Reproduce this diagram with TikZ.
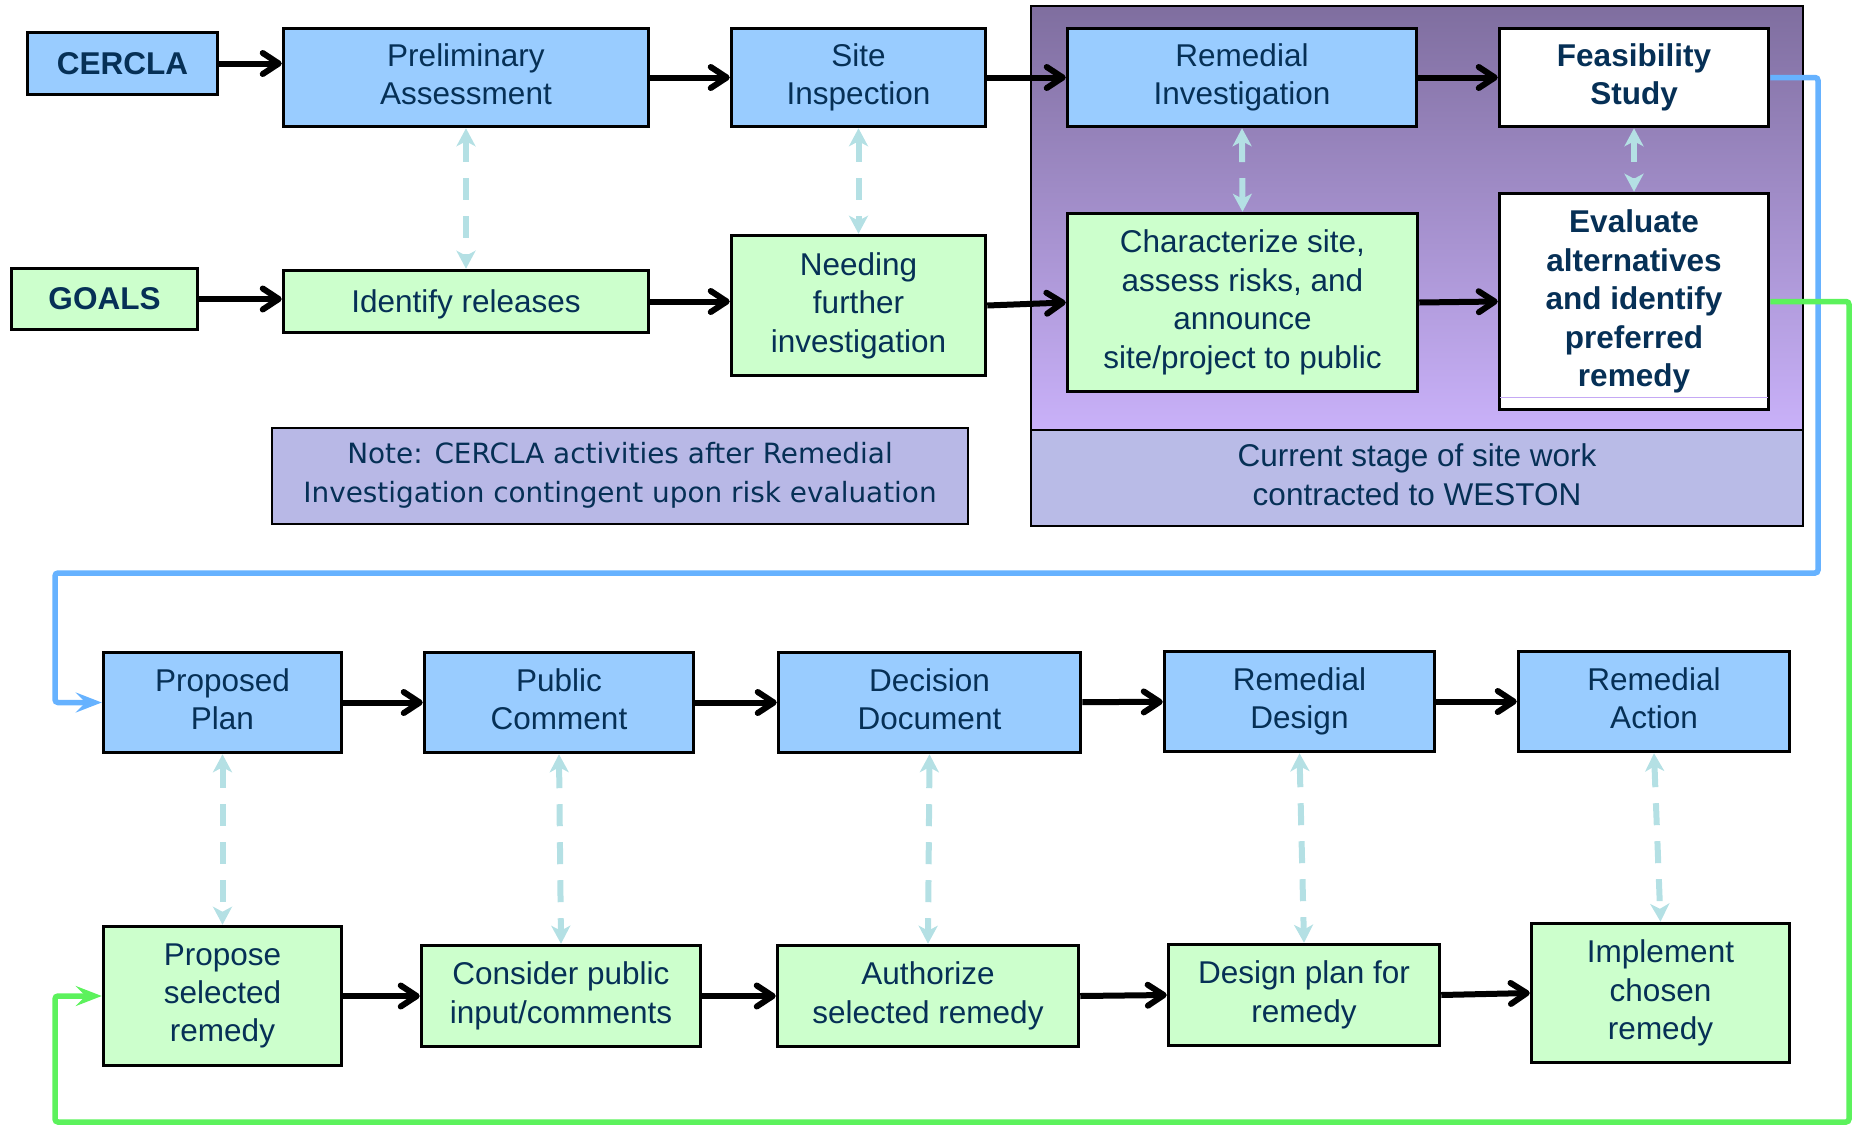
\documentclass[tikz,border=0pt]{standalone}
\usepackage{fontspec}
\setmainfont{Liberation Sans}
\newfontfamily\notefont{DejaVu Sans}
\usetikzlibrary{arrows.meta}
\definecolor{boxblue}{RGB}{153,204,255}
\definecolor{boxgreen}{RGB}{204,255,204}
\definecolor{txt}{RGB}{6,48,86}
\definecolor{dashc}{RGB}{180,224,228}
\definecolor{lineblue}{RGB}{102,178,255}
\definecolor{linegreen}{RGB}{92,242,92}
\definecolor{pantop}{RGB}{127,110,159}
\definecolor{panbot}{RGB}{201,177,249}
\definecolor{bandc}{RGB}{185,187,231}
\definecolor{notec}{RGB}{184,184,230}
\definecolor{thinlav}{RGB}{196,168,244}
\newcommand\pstrut{\rule[-6.7pt]{0pt}{35.2pt}}
\newcommand\nstrut{\rule[-6.4pt]{0pt}{31.8pt}}
\begin{document}
\begin{tikzpicture}[x=1pt,y=-1pt,
  box/.style={draw=black, line width=3.5pt, inner sep=0pt, align=center, text=txt,
    font=\fontsize{31.5}{38.5}\selectfont,
    execute at begin node=\pstrut, execute at end node=\pstrut},
  bbox/.style={box, fill=boxblue},
  gbox/.style={box, fill=boxgreen},
  wbox/.style={box, fill=white, font=\fontsize{31.5}{38.5}\selectfont\bfseries},
  flow/.style={line width=6pt, -{Straight Barb[length=16pt,width=21pt,round]}},
  dashline/.style={line width=6pt, draw=dashc, dash pattern=on 22pt off 16pt,
    {Stealth[length=18pt,width=19pt,inset=5pt]}-{Stealth[length=18pt,width=19pt,inset=5pt]}},
  bluelink/.style={line width=5.5pt, draw=lineblue, rounded corners=3pt,
    -{Stealth[length=26pt,width=20pt,inset=10pt]}},
  greenlink/.style={line width=5.5pt, draw=linegreen, rounded corners=3pt,
    -{Stealth[length=26pt,width=20pt,inset=10pt]}}
]
\useasboundingbox (0,0) rectangle (1856,1125);

% panel of current stage
\node[top color=pantop, bottom color=panbot, draw=black, line width=2.5pt,
  minimum width=772pt, minimum height=424pt, inner sep=0pt] (panel) at (1417,218) {};
\node[fill=bandc, draw=black, line width=2.5pt, minimum width=772pt, minimum height=96pt,
  inner sep=0pt, align=center, text=txt, font=\fontsize{31.5}{38.5}\selectfont,
  execute at begin node=\pstrut, execute at end node=\pstrut]
  (stage) at (1417,478) {Current stage of site work\\contracted to WESTON};

% top rows
\node[bbox, font=\fontsize{31.5}{38.5}\selectfont\bfseries, minimum width=190pt, minimum height=62pt] (cercla) at (122.5,63.5) {CERCLA};
\node[bbox, minimum width=365pt, minimum height=98pt] (prelim) at (466,77.5) {Preliminary\\Assessment};
\node[bbox, minimum width=254pt, minimum height=98pt] (site) at (858.5,77.5) {Site\\Inspection};
\node[bbox, minimum width=349pt, minimum height=98pt] (ri) at (1242,77.5) {Remedial\\Investigation};
\node[wbox, minimum width=269pt, minimum height=98pt] (fs) at (1634,77.5) {Feasibility\\Study};

\node[gbox, font=\fontsize{31.5}{38.5}\selectfont\bfseries, minimum width=186pt, minimum height=61pt] (goals) at (104.5,299) {GOALS};
\node[gbox, minimum width=365pt, minimum height=62pt] (ident) at (466,301.5) {Identify releases};
\node[gbox, minimum width=254pt, minimum height=140pt] (need) at (858.5,305.5) {Needing\\further\\investigation};
\node[gbox, minimum width=350pt, minimum height=178pt] (char) at (1242.5,302.5) {Characterize site,\\assess risks, and\\announce\\site/project to public};
\node[wbox, minimum width=269pt, minimum height=216pt] (eval) at (1634,301.5) {Evaluate\\alternatives\\and identify\\preferred\\remedy};
\draw[thinlav, line width=1.5pt] ([shift={(2,-14)}]eval.south west) -- ([shift={(-2,-14)}]eval.south east);

\node[draw=black, line width=2.5pt, fill=notec, minimum width=696pt, minimum height=96pt, inner sep=0pt,
  align=center, text=txt, font=\notefont\fontsize{27.9}{39}\selectfont,
  execute at begin node=\nstrut, execute at end node=\nstrut]
  (note) at (620,476) {Note: CERCLA activities after Remedial\\Investigation contingent upon risk evaluation};

% bottom rows
\node[bbox, minimum width=238pt, minimum height=100pt] (pp) at (222.5,702.5) {Proposed\\Plan};
\node[bbox, minimum width=269pt, minimum height=100pt] (pc) at (559,702.5) {Public\\Comment};
\node[bbox, minimum width=302pt, minimum height=100pt] (dd) at (929.5,702.5) {Decision\\Document};
\node[bbox, minimum width=270pt, minimum height=100pt] (rd) at (1299.5,701.5) {Remedial\\Design};
\node[bbox, minimum width=271pt, minimum height=100pt] (ra) at (1654,701.5) {Remedial\\Action};

\node[gbox, minimum width=238pt, minimum height=139pt] (psr) at (222.5,996) {Propose\\selected\\remedy};
\node[gbox, minimum width=279pt, minimum height=101pt] (cpi) at (561,996) {Consider public\\input/comments};
\node[gbox, minimum width=301pt, minimum height=101pt] (asr) at (928,996) {Authorize\\selected remedy};
\node[gbox, minimum width=271pt, minimum height=101pt] (dp) at (1304,995) {Design plan for\\remedy};
\node[gbox, minimum width=258pt, minimum height=139pt] (icr) at (1660.5,993) {Implement\\chosen\\remedy};

% solid flow arrows
\draw[flow] (cercla) -- (cercla -| prelim.west);
\draw[flow] (prelim) -- (site);
\draw[flow] (site) -- (ri);
\draw[flow] (ri) -- (fs);
\draw[flow] (goals) -- (goals -| ident.west);
\draw[flow] (ident) -- (ident -| need.west);
\draw[flow] (need.east) -- (char.west);
\draw[flow] (char.east) -- (eval.west);
\draw[flow] (pp) -- (pc);
\draw[flow] (pc) -- (dd);
\draw[flow] (dd) -- (rd);
\draw[flow] (rd) -- (ra);
\draw[flow] (psr.east) -- (cpi.west);
\draw[flow] (cpi) -- (asr);
\draw[flow] (asr.east) -- (dp.west);
\draw[flow] (dp.east) -- (icr.west);

% dashed correspondences
\draw[dashline] (prelim.south) -- (ident.north);
\draw[dashline] (site.south) -- (need.north);
\draw[dashline] (ri.south) -- (char.north);
\draw[dashline] (fs.south) -- (eval.north);
\draw[dashline] (pp.south) -- (psr.north);
\draw[dashline] (pc.south) -- (cpi.north);
\draw[dashline] (dd.south) -- (asr.north);
\draw[dashline] (rd.south) -- (dp.north);
\draw[dashline] (ra.south) -- (icr.north);

% long return links
\coordinate (b1) at (1818,573);
\coordinate (b2) at (55,573);
\draw[bluelink] (fs.east) -| (b1) -- (b2) |- (pp.west);
\coordinate (g1) at (1849,1122);
\coordinate (g2) at (55,1122);
\draw[greenlink] (eval.east) -| (g1) -- (g2) |- (psr.west);
\end{tikzpicture}
\end{document}
